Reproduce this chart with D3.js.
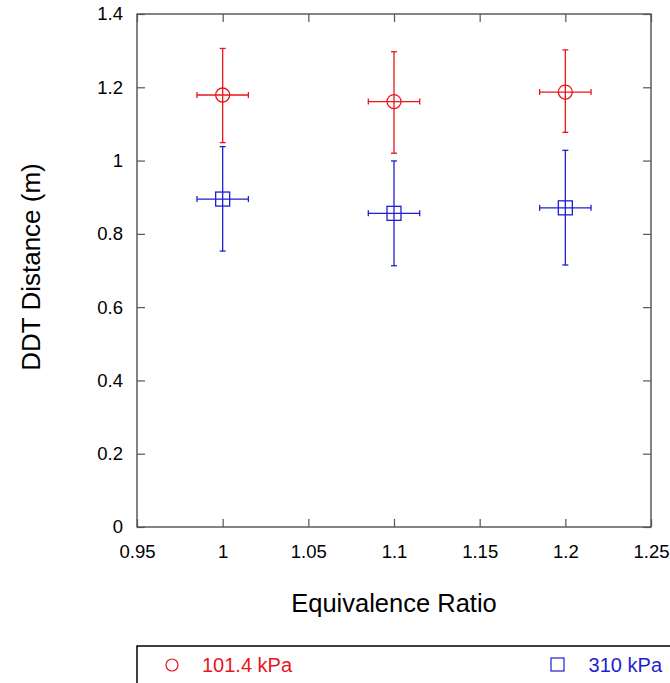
<!DOCTYPE html>
<html><head><meta charset="utf-8">
<script src="https://cdn.jsdelivr.net/npm/d3@7"></script>
<style>body{margin:0;background:#fff}svg{display:block;font-family:"Liberation Sans",Arial,sans-serif}</style>
</head><body><svg id="c" width="670" height="683"></svg>
<script>
const phi = [1.0, 1.1, 1.2];
const xErr = [0.015, 0.015, 0.015];
const lowP = [1.179, 1.161, 1.187];
const lowPLo = [1.049, 1.020, 1.077];
const lowPHi = [1.306, 1.297, 1.302];
const highP = [0.895, 0.856, 0.871];
const highPLo = [0.753, 0.713, 0.715];
const highPHi = [1.038, 0.999, 1.028];
const xTicks = [0.95, 1, 1.05, 1.1, 1.15, 1.2, 1.25];
const yTicks = [0, 0.2, 0.4, 0.6, 0.8, 1, 1.2, 1.4];
const seriesNames = ["101.4 kPa", "310 kPa"];

const svg = d3.select("#c");
const L = 137, R = 651, T = 14, B = 527;
const x = d3.scaleLinear().domain([0.95, 1.25]).range([L, R]);
const y = d3.scaleLinear().domain([0, 1.4]).range([B, T]);
const tickCol = "#555";
const fmt = d => String(+d.toFixed(2));

svg.append("rect").attr("x", L).attr("y", T).attr("width", R - L).attr("height", B - T)
  .attr("fill", "none").attr("stroke", "#333").attr("stroke-width", 1.2);

const gx = svg.append("g").attr("transform", `translate(0,${B})`)
  .call(d3.axisBottom(x).tickValues(xTicks).tickFormat(fmt).tickSizeInner(-8).tickSizeOuter(0).tickPadding(18));
const gxt = svg.append("g").attr("transform", `translate(0,${T})`)
  .call(d3.axisTop(x).tickValues(xTicks).tickFormat("").tickSizeInner(-8).tickSizeOuter(0));
const gy = svg.append("g").attr("transform", `translate(${L},0)`)
  .call(d3.axisLeft(y).tickValues(yTicks).tickFormat(fmt).tickSizeInner(-8).tickSizeOuter(0).tickPadding(14));
const gyr = svg.append("g").attr("transform", `translate(${R},0)`)
  .call(d3.axisRight(y).tickValues(yTicks).tickFormat("").tickSizeInner(-8).tickSizeOuter(0));
[gx, gxt, gy, gyr].forEach(g => {
  g.select(".domain").remove();
  g.selectAll(".tick line").attr("stroke", tickCol).attr("stroke-width", 1.2);
  g.selectAll("text").attr("font-size", 18.5).attr("fill", "#000").attr("font-family", '"Liberation Sans",Arial,sans-serif');
});

svg.append("text").attr("x", 394).attr("y", 612).attr("text-anchor", "middle")
  .attr("font-size", 25.5).text("Equivalence Ratio");
svg.append("text").attr("transform", `translate(40,267) rotate(-90)`).attr("text-anchor", "middle")
  .attr("font-size", 26).text("DDT Distance (m)");

function series(vals, lo, hi, color, shape) {
  const g = svg.append("g").attr("stroke", color).attr("fill", "none").attr("stroke-width", 1.3);
  phi.forEach((p, i) => {
    const cx = x(p), cy = y(vals[i]);
    const yl = y(lo[i]), yh = y(hi[i]);
    const xl = x(p - xErr[i]), xh = x(p + xErr[i]);
    g.append("line").attr("x1", cx).attr("x2", cx).attr("y1", yh).attr("y2", yl);
    g.append("line").attr("x1", cx - 3).attr("x2", cx + 3).attr("y1", yh).attr("y2", yh);
    g.append("line").attr("x1", cx - 3).attr("x2", cx + 3).attr("y1", yl).attr("y2", yl);
    g.append("line").attr("x1", xl).attr("x2", xh).attr("y1", cy).attr("y2", cy);
    g.append("line").attr("x1", xl).attr("x2", xl).attr("y1", cy - 3).attr("y2", cy + 3);
    g.append("line").attr("x1", xh).attr("x2", xh).attr("y1", cy - 3).attr("y2", cy + 3);
    if (shape === "circle") g.append("circle").attr("cx", cx).attr("cy", cy).attr("r", 7);
    else g.append("rect").attr("x", cx - 7).attr("y", cy - 7).attr("width", 14).attr("height", 14);
  });
}
const red = "#e8161c", blue = "#1e1ed2";
series(lowP, lowPLo, lowPHi, red, "circle");
series(highP, highPLo, highPHi, blue, "square");

svg.append("rect").attr("x", 137).attr("y", 646).attr("width", 545).attr("height", 50)
  .attr("fill", "none").attr("stroke", "#000").attr("stroke-width", 1.5);
svg.append("circle").attr("cx", 172).attr("cy", 665).attr("r", 6).attr("fill", "none").attr("stroke", red).attr("stroke-width", 1.2);
svg.append("text").attr("x", 202).attr("y", 672).attr("font-size", 20).attr("fill", red).text(seriesNames[0]);
svg.append("rect").attr("x", 551).attr("y", 658).attr("width", 13).attr("height", 13).attr("fill", "none").attr("stroke", blue).attr("stroke-width", 1.2);
svg.append("text").attr("x", 662).attr("y", 672).attr("text-anchor", "end").attr("font-size", 20).attr("fill", blue).text(seriesNames[1]);
</script></body></html>
